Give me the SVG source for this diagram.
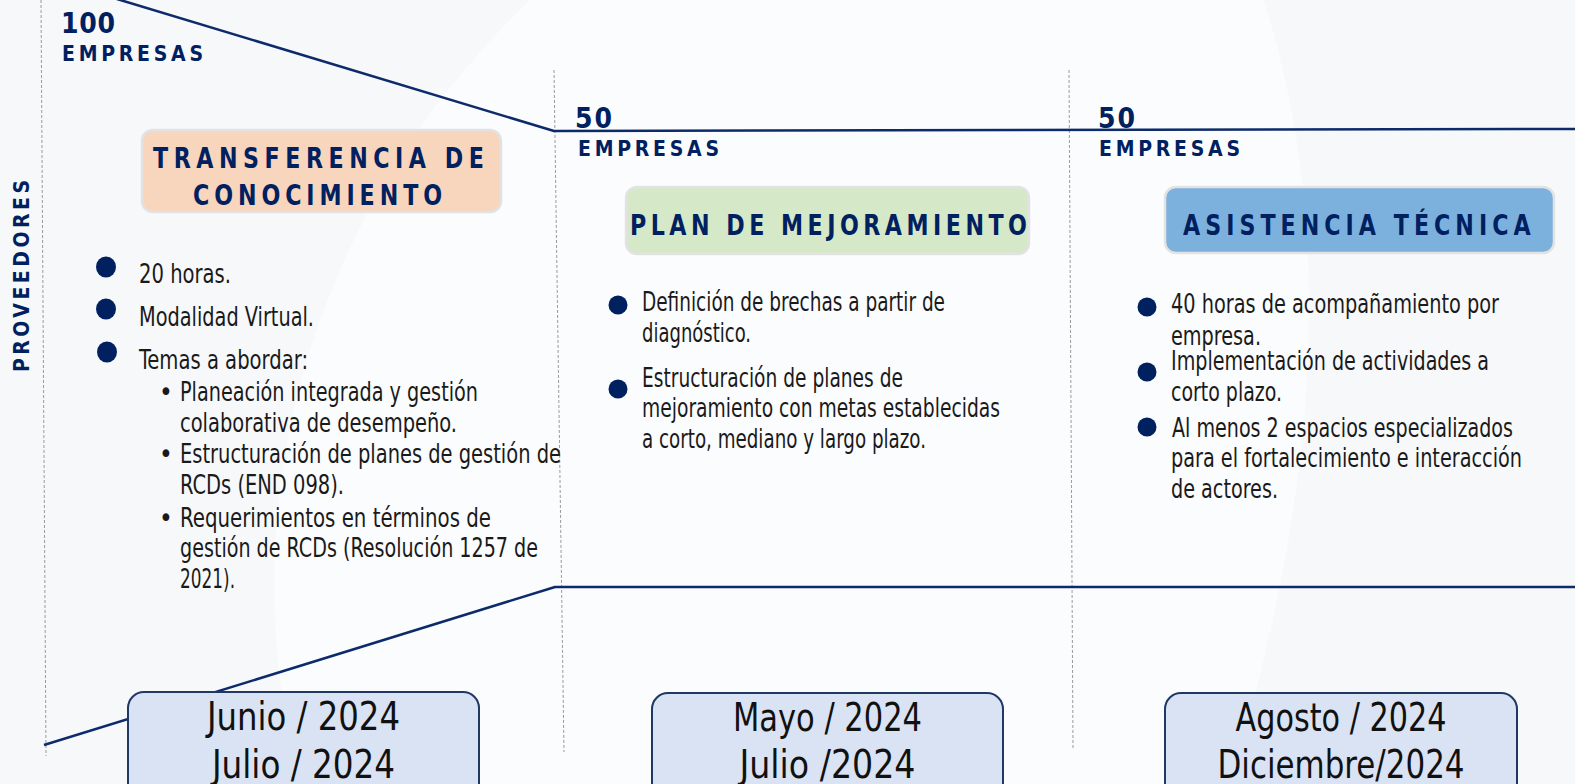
<svg xmlns="http://www.w3.org/2000/svg" width="1575" height="784" viewBox="0 0 1575 784">
<style>
.bg{fill:#f7f8fa}
.glow{fill:#ffffff;opacity:0.5}
.flow{fill:none;stroke:#0d2b6b;stroke-width:2.5;stroke-linejoin:round}
.div{fill:none;stroke:#9a9a9a;stroke-width:1;stroke-dasharray:3 2}
.num{font-family:"Liberation Sans Narrow","DejaVu Sans Condensed","Liberation Sans",sans-serif;font-weight:bold;fill:#002060;font-size:28px}
.lbl{font-family:"Liberation Sans Narrow","DejaVu Sans Condensed","Liberation Sans",sans-serif;font-weight:bold;fill:#002060;font-size:21px}
.ttl{font-family:"Liberation Sans Narrow","DejaVu Sans Condensed","Liberation Sans",sans-serif;font-weight:bold;fill:#002060;font-size:28px}
.body{font-family:"Liberation Sans Narrow","DejaVu Sans Condensed","Liberation Sans",sans-serif;fill:#1a1a1a;font-size:26px}
.date{font-family:"Liberation Sans Narrow","DejaVu Sans Condensed","Liberation Sans",sans-serif;fill:#111111;font-size:39px;text-anchor:middle}
.dot{fill:#002060}
.tbox{stroke:#e2e2e2;stroke-width:2.5}
.dbox{fill:#dae3f3;stroke:#1f3864;stroke-width:2}
</style>
<g id="background">
<rect class="bg" x="0" y="0" width="1575" height="784"/>
<path class="glow" d="M530 0 L1264 0 C1320 180 1340 420 1230 784 L300 784 C230 520 300 220 530 0 Z"/>
</g>
<g id="dividers">
<line class="div" x1="41" y1="0" x2="46" y2="756"/>
<line class="div" x1="554" y1="70" x2="564" y2="752"/>
<line class="div" x1="1069" y1="70" x2="1073" y2="748"/>
</g>
<g id="connectors">
<polyline class="flow" points="117,-1 554,131 1576,129"/>
<polyline class="flow" points="44,745 555,587 1576,587"/>
</g>
<g id="side-label">
<text class="lbl" transform="translate(29,372) rotate(-90)" textLength="192" lengthAdjust="spacing">PROVEEDORES</text>
</g>
<g id="count-100">
<text class="num" x="61" y="33" textLength="54" lengthAdjust="spacing">100</text>
<text class="lbl" x="62" y="61" textLength="141" lengthAdjust="spacing">EMPRESAS</text>
</g>
<g id="count-50-a">
<text class="num" x="575" y="128" textLength="37" lengthAdjust="spacing">50</text>
<text class="lbl" x="578" y="156" textLength="141" lengthAdjust="spacing">EMPRESAS</text>
</g>
<g id="count-50-b">
<text class="num" x="1098" y="128" textLength="37" lengthAdjust="spacing">50</text>
<text class="lbl" x="1099" y="156" textLength="141" lengthAdjust="spacing">EMPRESAS</text>
</g>
<g id="transferencia">
<rect class="tbox" x="142" y="130" width="359" height="82" rx="11" fill="#f8d5bd"/>
<text class="ttl" transform="translate(153,168) scale(0.88,1)" font-size="27" textLength="376" lengthAdjust="spacing">TRANSFERENCIA DE</text>
<text class="ttl" transform="translate(193,205) scale(0.88,1)" font-size="27" textLength="283" lengthAdjust="spacing">CONOCIMIENTO</text>
</g>
<g id="plan">
<rect class="tbox" x="626" y="187" width="403" height="67" rx="11" fill="#d5e8c8"/>
<text class="ttl" transform="translate(630,235) scale(0.88,1)" textLength="451" lengthAdjust="spacing">PLAN DE MEJORAMIENTO</text>
</g>
<g id="asistencia">
<rect class="tbox" x="1165" y="187" width="389" height="66" rx="11" fill="#7cb1de"/>
<text class="ttl" transform="translate(1183,235) scale(0.88,1)" textLength="395" lengthAdjust="spacing">ASISTENCIA TÉCNICA</text>
</g>
<g id="list-transferencia">
<ellipse class="dot" cx="106" cy="267" rx="10" ry="10.5"/>
<ellipse class="dot" cx="106" cy="309" rx="10" ry="10.5"/>
<ellipse class="dot" cx="107" cy="352" rx="10" ry="10.5"/>
<text class="body" x="139" y="283" textLength="92" lengthAdjust="spacingAndGlyphs">20 horas.</text>
<text class="body" x="139" y="326" textLength="175" lengthAdjust="spacingAndGlyphs">Modalidad Virtual.</text>
<text class="body" x="139" y="369" textLength="169" lengthAdjust="spacingAndGlyphs">Temas a abordar:</text>
<text class="body" x="159" y="401">•</text>
<text class="body" x="180" y="401" textLength="298" lengthAdjust="spacingAndGlyphs">Planeación integrada y gestión</text>
<text class="body" x="180" y="432" textLength="277" lengthAdjust="spacingAndGlyphs">colaborativa de desempeño.</text>
<text class="body" x="159" y="463">•</text>
<text class="body" x="180" y="463" textLength="381" lengthAdjust="spacingAndGlyphs">Estructuración de planes de gestión de</text>
<text class="body" x="180" y="494" textLength="164" lengthAdjust="spacingAndGlyphs">RCDs (END 098).</text>
<text class="body" x="159" y="527">•</text>
<text class="body" x="180" y="527" textLength="311" lengthAdjust="spacingAndGlyphs">Requerimientos en términos de</text>
<text class="body" x="180" y="557" textLength="358" lengthAdjust="spacingAndGlyphs">gestión de RCDs (Resolución 1257 de</text>
<text class="body" x="180" y="588" textLength="55" lengthAdjust="spacingAndGlyphs">2021).</text>
</g>
<g id="list-plan">
<circle class="dot" cx="618" cy="305" r="9.5"/>
<circle class="dot" cx="618" cy="389" r="9.5"/>
<text class="body" x="642" y="311" textLength="303" lengthAdjust="spacingAndGlyphs">Definición de brechas a partir de</text>
<text class="body" x="642" y="342" textLength="109" lengthAdjust="spacingAndGlyphs">diagnóstico.</text>
<text class="body" x="642" y="387" textLength="261" lengthAdjust="spacingAndGlyphs">Estructuración de planes de</text>
<text class="body" x="642" y="417" textLength="358" lengthAdjust="spacingAndGlyphs">mejoramiento con metas establecidas</text>
<text class="body" x="642" y="448" textLength="284" lengthAdjust="spacingAndGlyphs">a corto, mediano y largo plazo.</text>
</g>
<g id="list-asistencia">
<circle class="dot" cx="1147" cy="307" r="9.5"/>
<circle class="dot" cx="1147" cy="372" r="9.5"/>
<circle class="dot" cx="1147" cy="427" r="9.5"/>
<text class="body" x="1171" y="313" textLength="328" lengthAdjust="spacingAndGlyphs">40 horas de acompañamiento por</text>
<text class="body" x="1171" y="345" textLength="90" lengthAdjust="spacingAndGlyphs">empresa.</text>
<text class="body" x="1171" y="370" textLength="318" lengthAdjust="spacingAndGlyphs">Implementación de actividades a</text>
<text class="body" x="1171" y="401" textLength="111" lengthAdjust="spacingAndGlyphs">corto plazo.</text>
<text class="body" x="1172" y="437" textLength="341" lengthAdjust="spacingAndGlyphs">Al menos 2 espacios especializados</text>
<text class="body" x="1171" y="467" textLength="351" lengthAdjust="spacingAndGlyphs">para el fortalecimiento e interacción</text>
<text class="body" x="1171" y="498" textLength="107" lengthAdjust="spacingAndGlyphs">de actores.</text>
</g>
<g id="date-1">
<rect class="dbox" x="128" y="692" width="351" height="120" rx="16"/>
<text class="date" x="303.5" y="730" textLength="193" lengthAdjust="spacingAndGlyphs">Junio / 2024</text>
<text class="date" x="303.5" y="778" textLength="183" lengthAdjust="spacingAndGlyphs">Julio / 2024</text>
</g>
<g id="date-2">
<rect class="dbox" x="652" y="693" width="351" height="120" rx="16"/>
<text class="date" x="827.5" y="731" textLength="189" lengthAdjust="spacingAndGlyphs">Mayo / 2024</text>
<text class="date" x="827.5" y="778" textLength="176" lengthAdjust="spacingAndGlyphs">Julio /2024</text>
</g>
<g id="date-3">
<rect class="dbox" x="1165" y="693" width="352" height="120" rx="16"/>
<text class="date" x="1341" y="731" textLength="211" lengthAdjust="spacingAndGlyphs">Agosto / 2024</text>
<text class="date" x="1341" y="778" textLength="247" lengthAdjust="spacingAndGlyphs">Diciembre/2024</text>
</g>
</svg>
